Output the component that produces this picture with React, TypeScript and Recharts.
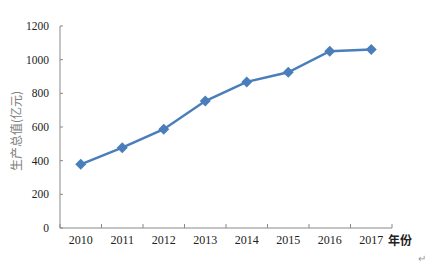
import { LineChart, Line, XAxis, YAxis } from 'recharts';

const years = ['2010', '2011', '2012', '2013', '2014', '2015', '2016', '2017'];
const gdp = [378, 477, 587, 754, 868, 925, 1050, 1060];
const yTicks = [0, 200, 400, 600, 800, 1000, 1200];

const data = years.map((year, i) => ({ year, value: gdp[i] }));

const BLUE = '#4A7EBB';
const AXIS = '#898989';
const FONT = '"Liberation Serif", "Times New Roman", serif';

// diamond marker
const Diamond = (props: any) => {
    const { cx, cy } = props;
    if (cx == null || cy == null) return null;
    const r = 5.5;
    return <polygon points={`${cx},${cy - r} ${cx + r},${cy} ${cx},${cy + r} ${cx - r},${cy}`} fill={BLUE} />;
};

// labels centred in the band, tick marks on the band edges pointing up
const XTick = (props: any) => {
    const { x, y, payload, index, visibleTicksCount, width } = props;
    const bw = width / visibleTicksCount;
    const axisY = y - 8;
    return (
        <g>
            <line x1={x - bw / 2} y1={axisY} x2={x - bw / 2} y2={axisY - 4} stroke={AXIS} />
            {index === visibleTicksCount - 1 && (
                <line x1={x + bw / 2} y1={axisY} x2={x + bw / 2} y2={axisY - 4} stroke={AXIS} />
            )}
            <text x={x} y={y + 8} textAnchor="middle" fontSize={12} fontFamily={FONT} fill="#222">
                {payload.value}
            </text>
        </g>
    );
};

export default function App() {
    return (
        <div style={{ position: 'absolute', left: 0, top: 0, width: 441, height: 265, background: '#fff' }}>
            <LineChart width={441} height={265} data={data} margin={{ top: 26, right: 49, left: 0, bottom: 0 }}>
                <XAxis
                    dataKey="year"
                    scale="band"
                    height={37}
                    axisLine={{ stroke: AXIS }}
                    tickLine={false}
                    tick={<XTick />}
                    interval={0}
                    label={{
                        content: (p: any) => {
                            const vb = p.viewBox;
                            return (
                                <g>
                                    <text x={vb.x + vb.width - 4} y={vb.y + 17} fontSize={12} fontWeight="bold"
                                        fontFamily='"Noto Sans CJK SC", sans-serif' fill="#222">年份</text>
                                    <text x={418} y={262} fontSize={10} fill="#999" fontFamily={FONT}>↵</text>
                                </g>
                            );
                        },
                    }}
                />
                <YAxis
                    width={60}
                    domain={[0, 1200]}
                    ticks={yTicks}
                    interval={0}
                    axisLine={{ stroke: AXIS }}
                    tickLine={{ stroke: AXIS }}
                    tickSize={-3}
                    tickMargin={14}
                    tick={{ fontSize: 11.5, fontFamily: FONT, fill: '#222' }}
                    label={{
                        content: () => (
                            <text x={15} y={131} transform="rotate(-90 15 131)" textAnchor="middle"
                                dominantBaseline="central" fontSize={12}
                                fontFamily='"Noto Sans CJK SC", sans-serif' fill="#808080">
                                生产总值(亿元)
                            </text>
                        ),
                    }}
                />
                <Line
                    type="linear"
                    dataKey="value"
                    stroke={BLUE}
                    strokeWidth={2.5}
                    dot={<Diamond />}
                    activeDot={false}
                    isAnimationActive={false}
                />
            </LineChart>
        </div>
    );
}
